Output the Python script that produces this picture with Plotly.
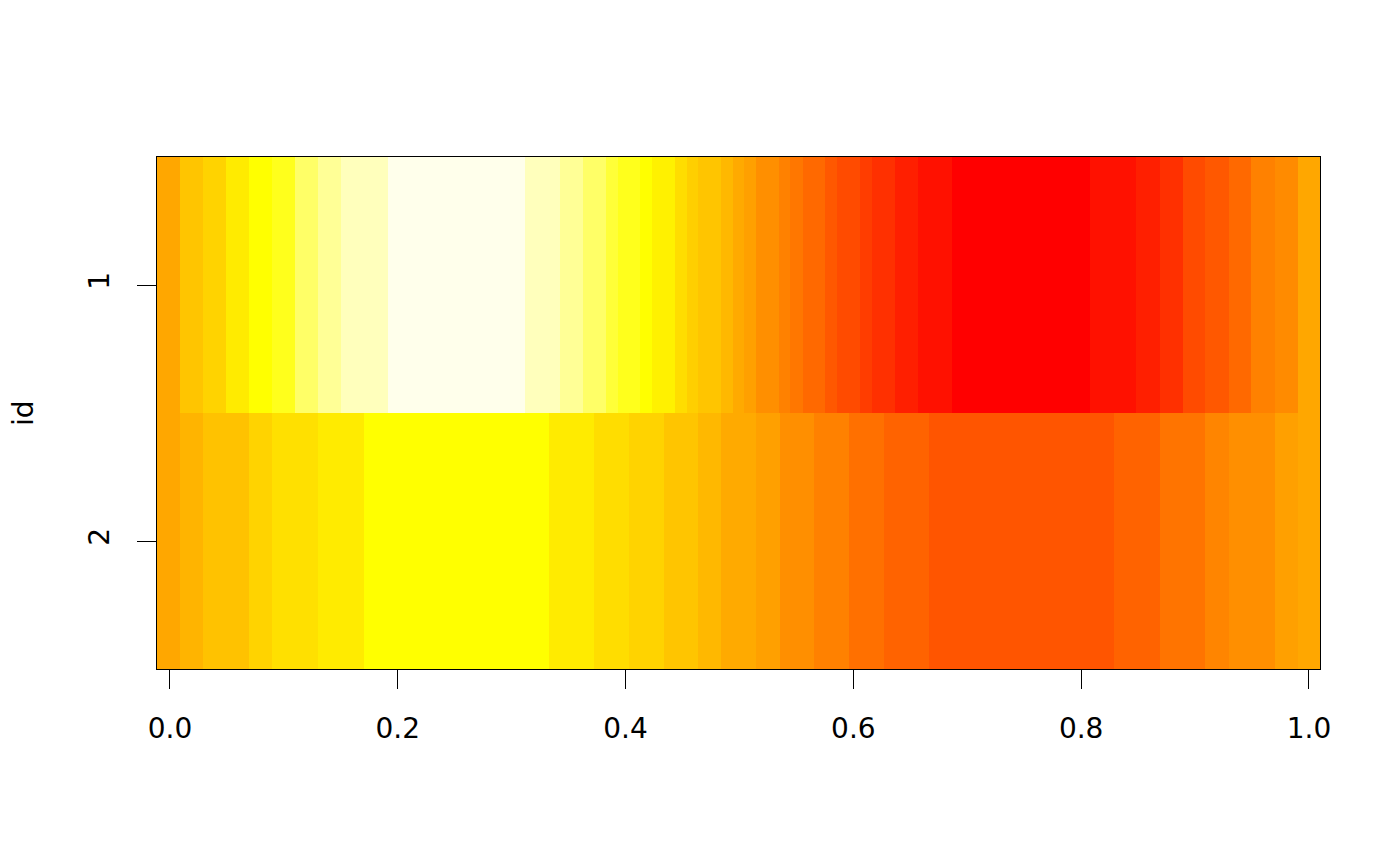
import plotly.graph_objects as go

# cell edges along x (row id 1 and id 2 have their own breaks)
edges_1 = [-0.0114, 0.0088, 0.0287, 0.0492, 0.0694, 0.0896, 0.1098, 0.1301, 0.1503, 0.1916,
           0.3120, 0.3427, 0.3629, 0.3829, 0.3937, 0.4130, 0.4236, 0.4438, 0.4543, 0.4640,
           0.4842, 0.4947, 0.5044, 0.5141, 0.5349, 0.5448, 0.5554, 0.5747, 0.5852, 0.6054,
           0.6160, 0.6362, 0.6564, 0.6863, 0.8076, 0.8480, 0.8691, 0.8893, 0.9086, 0.9297,
           0.9490, 0.9701, 0.9903, 1.0097]
values_1 = [0.49, 0.58, 0.62, 0.69, 0.75, 0.78, 0.86, 0.91, 0.95, 1.00,
            0.95, 0.91, 0.86, 0.81, 0.78, 0.75, 0.71, 0.65, 0.61, 0.58,
            0.54, 0.50, 0.47, 0.42, 0.38, 0.35, 0.31, 0.26, 0.22, 0.18,
            0.14, 0.09, 0.05, 0.00, 0.05, 0.09, 0.14, 0.22, 0.26, 0.31,
            0.38, 0.41, 0.49]

edges_2 = [-0.0114, 0.0088, 0.0287, 0.0694, 0.0896, 0.1301, 0.1705, 0.3330, 0.3726, 0.4033,
           0.4341, 0.4640, 0.4842, 0.5141, 0.5352, 0.5650, 0.5958, 0.6265, 0.6661, 0.8286,
           0.8691, 0.9086, 0.9297, 0.9701, 0.9903, 1.0097]
values_2 = [0.49, 0.53, 0.57, 0.62, 0.66, 0.69, 0.75, 0.69, 0.65, 0.62,
            0.58, 0.54, 0.50, 0.47, 0.42, 0.38, 0.33, 0.29, 0.25, 0.29,
            0.34, 0.39, 0.42, 0.47, 0.49]

ids = [1, 2]
x_ticks = [0.0, 0.2, 0.4, 0.6, 0.8, 1.0]

# R heat.colors-like ramp: red -> yellow -> pale yellow
heat = [[0.0, "#FF0000"], [0.75, "#FFFF00"], [1.0, "#FFFFEB"]]

fig = go.Figure()
fig.add_trace(go.Heatmap(x=edges_1, y=[ids[0] - 0.5, ids[0] + 0.5], z=[values_1],
                         coloraxis="coloraxis", hoverinfo="skip"))
fig.add_trace(go.Heatmap(x=edges_2, y=[ids[1] - 0.5, ids[1] + 0.5], z=[values_2],
                         coloraxis="coloraxis", hoverinfo="skip"))

font = dict(family="DejaVu Sans", size=28, color="black")

# page body adds 8px, so margins are trimmed on the left/top
fig.update_layout(
    width=1400, height=866,
    margin=dict(l=149, r=88, t=149, b=205),
    paper_bgcolor="white", plot_bgcolor="white",
    font=font,
    coloraxis=dict(colorscale=heat, cmin=0, cmax=1, showscale=False),
    showlegend=False,
)
fig.update_xaxes(range=[edges_1[0], edges_1[-1]], tickvals=x_ticks, tickformat=".1f",
                 ticks="outside", ticklen=19, tickwidth=1.3, tickcolor="black",
                 showline=True, linecolor="black", linewidth=1.3, mirror=True,
                 showgrid=False, zeroline=False, ticklabelstandoff=15)
fig.update_yaxes(range=[2.5, 0.5], tickvals=ids, ticktext=[str(i) for i in ids],
                 tickangle=-90, ticks="outside", ticklen=19, tickwidth=1.3, tickcolor="black",
                 showline=True, linecolor="black", linewidth=1.3, mirror=True,
                 showgrid=False, zeroline=False, ticklabelstandoff=17)

fig.add_annotation(text="id", xref="paper", yref="paper", x=(23 - 157) / 1163, y=0.5,
                   xanchor="center", yanchor="middle", textangle=-90, showarrow=False,
                   font=font)

fig.write_html("out.html")
